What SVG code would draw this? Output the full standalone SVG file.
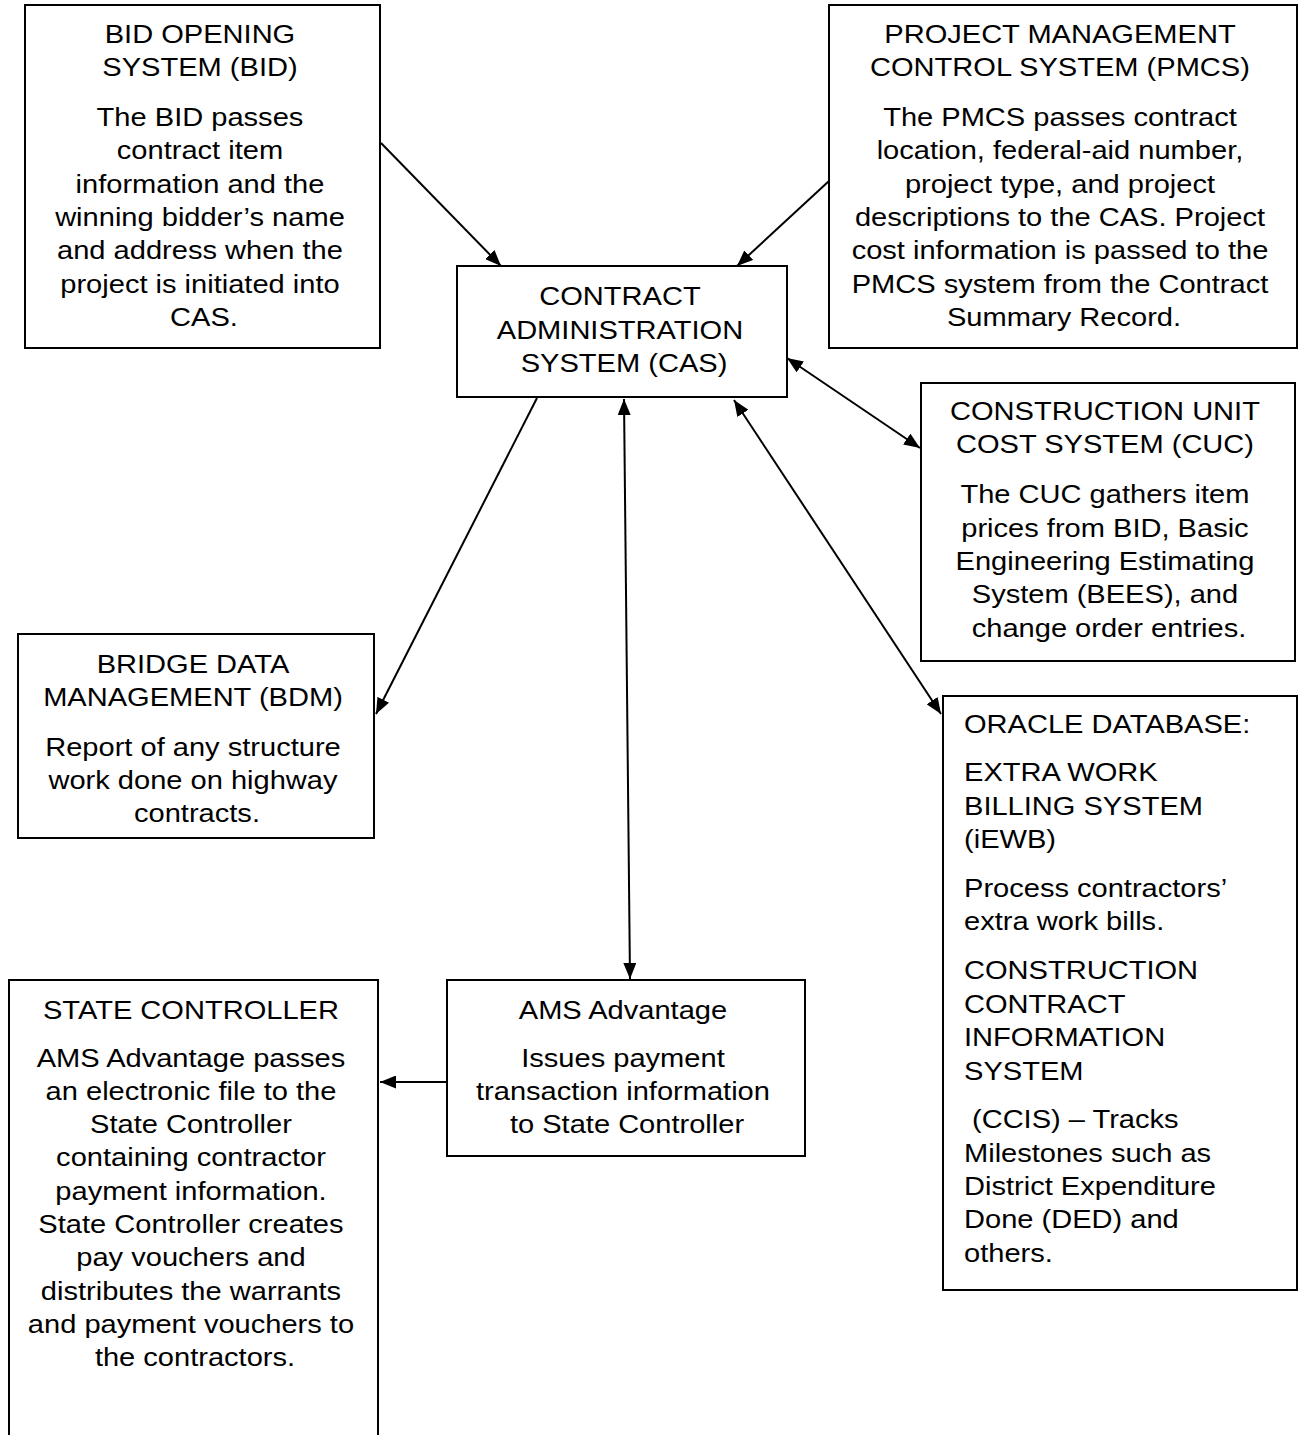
<svg xmlns="http://www.w3.org/2000/svg" width="1299" height="1435" viewBox="0 0 1299 1435">
<style>
.box{fill:#fff;stroke:#000;stroke-width:2}
text{font-family:"Liberation Sans",Arial,sans-serif;font-size:25.5px;fill:#000}
.c{text-anchor:middle}
.conn line{stroke:#000;stroke-width:2}
</style>
<defs>
<marker id="ah" viewBox="0 0 16 13" refX="16" refY="6.5" markerUnits="userSpaceOnUse" markerWidth="16" markerHeight="13" orient="auto-start-reverse">
<path d="M0,0 L16,6.5 L0,13 z" fill="#000"/>
</marker>
</defs>
<rect width="1299" height="1435" fill="#fff"/>

<g id="bid">
<rect class="box" x="25" y="5" width="355" height="343"/>
<text class="c" transform="matrix(1.14 0 0 1 204 0)">
<tspan x="0" y="43">BID OPENING</tspan>
<tspan x="0" y="76">SYSTEM (BID)</tspan>
<tspan x="0" y="126">The BID passes</tspan>
<tspan x="0" y="159">contract item</tspan>
<tspan x="0" y="193">information and the</tspan>
<tspan x="0" y="226">winning bidder’s name</tspan>
<tspan x="0" y="259">and address when the</tspan>
<tspan x="0" y="293">project is initiated into</tspan>
<tspan x="0" y="326">CAS.</tspan>
</text>
</g>

<g id="pmcs">
<rect class="box" x="829" y="5" width="468" height="343"/>
<text class="c" transform="matrix(1.14 0 0 1 1064 0)">
<tspan x="0" y="43">PROJECT MANAGEMENT</tspan>
<tspan x="0" y="76">CONTROL SYSTEM (PMCS)</tspan>
<tspan x="0" y="126">The PMCS passes contract</tspan>
<tspan x="0" y="159">location, federal-aid number,</tspan>
<tspan x="0" y="193">project type, and project</tspan>
<tspan x="0" y="226">descriptions to the CAS. Project</tspan>
<tspan x="0" y="259">cost information is passed to the</tspan>
<tspan x="0" y="293">PMCS system from the Contract</tspan>
<tspan x="0" y="326">Summary Record.</tspan>
</text>
</g>

<g id="cas">
<rect class="box" x="457" y="266" width="330" height="131"/>
<text class="c" transform="matrix(1.14 0 0 1 624 0)">
<tspan x="0" y="305">CONTRACT</tspan>
<tspan x="0" y="339">ADMINISTRATION</tspan>
<tspan x="0" y="372">SYSTEM (CAS)</tspan>
</text>
</g>

<g id="cuc">
<rect class="box" x="921" y="383" width="374" height="278"/>
<text class="c" transform="matrix(1.14 0 0 1 1109 0)">
<tspan x="0" y="420">CONSTRUCTION UNIT</tspan>
<tspan x="0" y="453">COST SYSTEM (CUC)</tspan>
<tspan x="0" y="503">The CUC gathers item</tspan>
<tspan x="0" y="537">prices from BID, Basic</tspan>
<tspan x="0" y="570">Engineering Estimating</tspan>
<tspan x="0" y="603">System (BEES), and</tspan>
<tspan x="0" y="637">change order entries.</tspan>
</text>
</g>

<g id="bdm">
<rect class="box" x="18" y="634" width="356" height="204"/>
<text class="c" transform="matrix(1.14 0 0 1 197 0)">
<tspan x="0" y="673">BRIDGE DATA</tspan>
<tspan x="0" y="706">MANAGEMENT (BDM)</tspan>
<tspan x="0" y="756">Report of any structure</tspan>
<tspan x="0" y="789">work done on highway</tspan>
<tspan x="0" y="822">contracts.</tspan>
</text>
</g>

<g id="oracle">
<rect class="box" x="943" y="696" width="354" height="594"/>
<text transform="matrix(1.14 0 0 1 964 0)">
<tspan x="0" y="733">ORACLE DATABASE:</tspan>
<tspan x="0" y="781">EXTRA WORK</tspan>
<tspan x="0" y="815">BILLING SYSTEM</tspan>
<tspan x="0" y="848">(iEWB)</tspan>
<tspan x="0" y="897">Process contractors’</tspan>
<tspan x="0" y="930">extra work bills.</tspan>
<tspan x="0" y="979">CONSTRUCTION</tspan>
<tspan x="0" y="1013">CONTRACT</tspan>
<tspan x="0" y="1046">INFORMATION</tspan>
<tspan x="0" y="1080">SYSTEM</tspan>
<tspan x="7" y="1128">(CCIS) – Tracks</tspan>
<tspan x="0" y="1162">Milestones such as</tspan>
<tspan x="0" y="1195">District Expenditure</tspan>
<tspan x="0" y="1228">Done (DED) and</tspan>
<tspan x="0" y="1262">others.</tspan>
</text>
</g>

<g id="state">
<path class="box" d="M9,1440 L9,980 L378,980 L378,1440" />
<text class="c" transform="matrix(1.14 0 0 1 195 0)">
<tspan x="0" y="1019">STATE CONTROLLER</tspan>
<tspan x="0" y="1067">AMS Advantage passes</tspan>
<tspan x="0" y="1100">an electronic file to the</tspan>
<tspan x="0" y="1133">State Controller</tspan>
<tspan x="0" y="1166">containing contractor</tspan>
<tspan x="0" y="1200">payment information.</tspan>
<tspan x="0" y="1233">State Controller creates</tspan>
<tspan x="0" y="1266">pay vouchers and</tspan>
<tspan x="0" y="1300">distributes the warrants</tspan>
<tspan x="0" y="1333">and payment vouchers to</tspan>
<tspan x="0" y="1366">the contractors.</tspan>
</text>
</g>

<g id="ams">
<rect class="box" x="447" y="980" width="358" height="176"/>
<text class="c" transform="matrix(1.14 0 0 1 627 0)">
<tspan x="0" y="1019">AMS Advantage</tspan>
<tspan x="0" y="1067">Issues payment</tspan>
<tspan x="0" y="1100">transaction information</tspan>
<tspan x="0" y="1133">to State Controller</tspan>
</text>
</g>

<g id="connectors" class="conn">
<line x1="381" y1="143" x2="501" y2="266" marker-end="url(#ah)"/>
<line x1="829" y1="181" x2="737" y2="266" marker-end="url(#ah)"/>
<line x1="537" y1="398" x2="376" y2="714" marker-end="url(#ah)"/>
<line x1="624" y1="399" x2="630" y2="979" marker-start="url(#ah)" marker-end="url(#ah)"/>
<line x1="787" y1="358" x2="920" y2="448" marker-start="url(#ah)" marker-end="url(#ah)"/>
<line x1="734" y1="400" x2="941" y2="714" marker-start="url(#ah)" marker-end="url(#ah)"/>
<line x1="447" y1="1082" x2="380" y2="1082" marker-end="url(#ah)"/>
</g>
</svg>
